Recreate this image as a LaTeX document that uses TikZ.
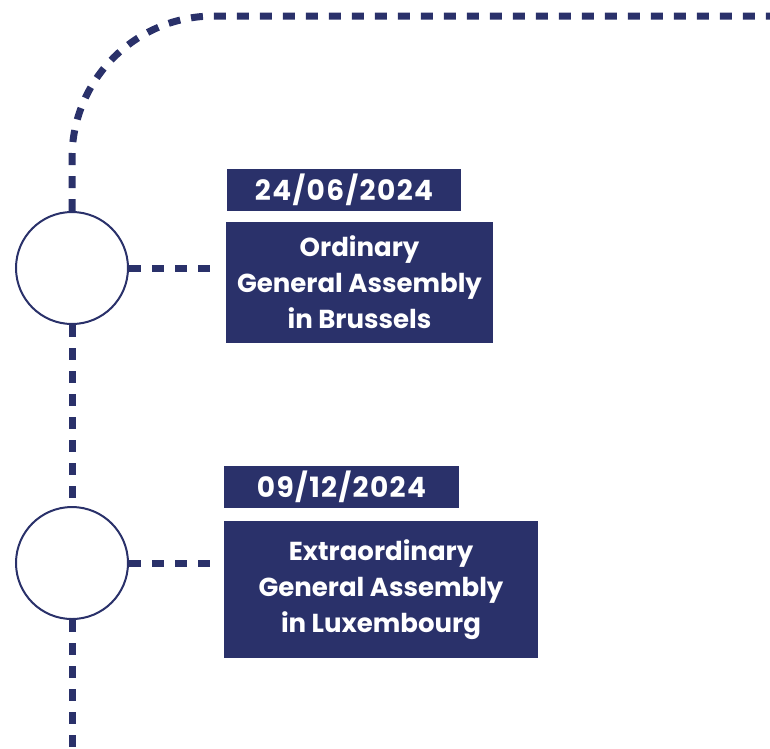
\documentclass[tikz,border=0pt]{standalone}
\usepackage{fontspec}
\setmainfont{Poppins}
\usetikzlibrary{positioning}
\definecolor{navy}{RGB}{42,49,106}

\begin{document}
\begin{tikzpicture}[x=1pt,y=-1pt,
    track/.style={draw=navy,line width=7pt,dash pattern=on 12pt off 11pt},
    stop/.style={circle,draw=navy,line width=2pt,fill=white,minimum size=112pt,inner sep=0pt},
    event/.style={rectangle,fill=navy,text=white,align=center,font=\bfseries\fontsize{26}{36}\selectfont,inner sep=0pt},
    datebox/.style={rectangle,fill=navy,text=white,font=\bfseries\fontsize{28}{30}\selectfont\addfontfeature{LetterSpace=5},minimum width=234pt,minimum height=42pt,inner sep=0pt}]

    \useasboundingbox (0,0) rectangle (770,748);

    \coordinate (corner) at (770,16);
    \coordinate (bottom) at (72,748);

    \node[stop] (ordstop) at (72,268) {};
    \node[stop] (extrastop) at (72,563) {};

    \node[event,minimum width=267pt,minimum height=121pt] (ord) at (359.5,282.5) {\raisebox{-1.5pt}{Ordinary}\\\raisebox{-1.5pt}{General Assembly}\\\raisebox{-1.5pt}{in Brussels}};
    \node[datebox,above right=11pt and 1pt of ord.north west] (orddate) {24/06/2024};
    \node[event,minimum width=314pt,minimum height=137pt] (extra) at (381,589.5) {\raisebox{-1.5pt}{Extraordinary}\\\raisebox{-1.5pt}{General Assembly}\\\raisebox{-1.5pt}{in Luxembourg}};
    \node[datebox,minimum width=235pt,above right=13pt and 0pt of extra.north west] (extradate) {09/12/2024};

    % timeline
    \draw[track,rounded corners=142pt] (ordstop.north) |- (corner);
    \draw[track] (ordstop.south) -- (extrastop.north);
    \draw[track] (extrastop.south) -- (bottom);

    % links to the boxes
    \draw[track,shorten >=14pt] (ordstop.east) -- (ordstop.east -| ord.west);
    \draw[track,shorten >=12pt] (extrastop.east) -- (extrastop.east -| extra.west);
\end{tikzpicture}
\end{document}
